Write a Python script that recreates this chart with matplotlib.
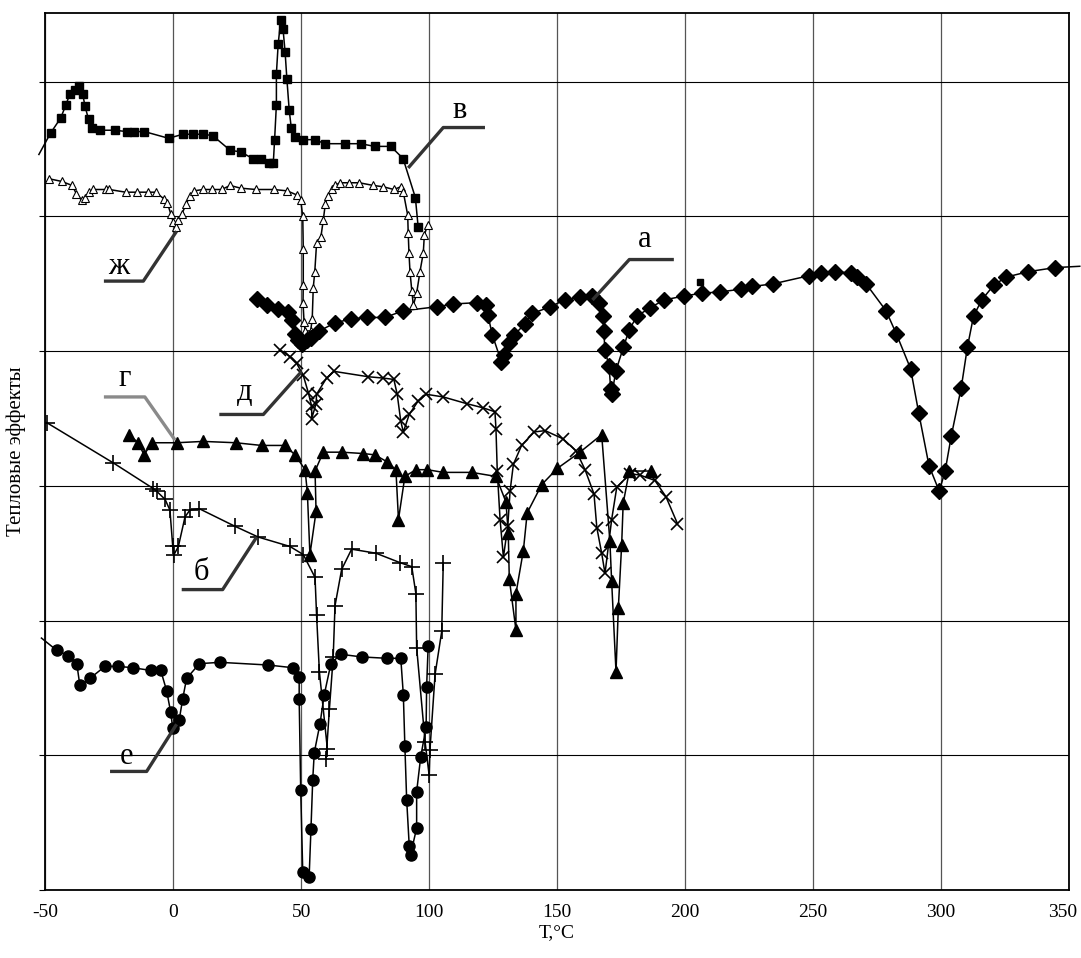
import matplotlib
matplotlib.use("Agg")
import matplotlib.pyplot as plt
from matplotlib.transforms import ScaledTranslation

plt.rcParams['font.family'] = ['Liberation Serif', 'DejaVu Serif']

# curve "в" (filled squares)
v_T = [-47.9, -44.0, -41.9, -40.4, -38.5, -37.0, -35.4, -34.5, -33.1, -31.7,
       -28.5, -22.9, -18.2, -15.2, -11.3, -1.8, 3.7, 7.8, 11.7, 15.4,
       22.3, 26.3, 31.0, 34.2, 37.3, 39.1, 39.6, 40.3, 40.3, 41.0,
       42.0, 42.9, 43.7, 44.4, 45.3, 46.1, 47.7, 50.6, 55.4, 59.2,
       67.0, 73.2, 78.7, 85.0, 89.8, 94.6, 95.7]
v_Y = [5.62, 5.73, 5.83, 5.91, 5.94, 5.97, 5.91, 5.82, 5.72, 5.66,
       5.64, 5.64, 5.63, 5.63, 5.63, 5.58, 5.61, 5.61, 5.61, 5.60,
       5.49, 5.48, 5.43, 5.43, 5.40, 5.40, 5.57, 5.83, 6.06, 6.28,
       6.46, 6.39, 6.22, 6.02, 5.79, 5.66, 5.59, 5.57, 5.57, 5.54,
       5.54, 5.54, 5.52, 5.52, 5.43, 5.14, 4.92]
v_lead = (-52.5, 5.46)
stray_T, stray_Y = [206.0], [4.51]

# curve "ж" (open triangles)
zh_T = [-48.6, -43.6, -39.5, -37.9, -35.8, -34.4, -32.8, -31.3, -26.3, -25.0,
        -18.6, -14.1, -10.0, -6.9, -3.6, -2.3, -1.0, 0.0, 0.9, 2.0,
        3.4, 5.0, 6.5, 8.1, 11.7, 15.1, 18.9, 22.2, 26.3, 32.3,
        39.2, 44.5, 48.2, 49.8, 50.6, 50.8, 50.8, 50.7, 51.1, 51.5,
        53.7, 54.3, 54.7, 55.3, 56.0, 57.7, 58.6, 59.4, 60.3, 61.9,
        63.3, 65.1, 68.8, 72.7, 78.2, 82.1, 86.2, 88.9, 89.9, 91.6,
        91.8, 92.1, 92.5, 93.2, 93.8, 95.1, 96.4, 97.7, 98.1, 99.4]
zh_Y = [5.28, 5.26, 5.23, 5.17, 5.12, 5.14, 5.18, 5.20, 5.20, 5.20,
        5.18, 5.18, 5.18, 5.18, 5.13, 5.10, 5.02, 4.96, 4.92, 4.97,
        5.02, 5.09, 5.15, 5.19, 5.20, 5.20, 5.20, 5.23, 5.21, 5.20,
        5.20, 5.19, 5.16, 5.12, 5.00, 4.76, 4.49, 4.36, 4.22, 4.15,
        4.15, 4.24, 4.47, 4.59, 4.80, 4.85, 4.97, 5.09, 5.15, 5.20,
        5.23, 5.25, 5.25, 5.25, 5.23, 5.22, 5.20, 5.22, 5.18, 5.01,
        4.88, 4.73, 4.59, 4.45, 4.34, 4.43, 4.59, 4.73, 4.86, 4.94]

# curve "а" (filled diamonds)
a_T = [32.8, 36.7, 41.0, 44.9, 46.3, 47.6, 48.8, 50.2, 52.1, 53.7,
       57.1, 63.2, 69.6, 75.8, 82.7, 89.9, 103.2, 109.4, 118.6, 122.1,
       122.9, 124.7, 128.2, 129.2, 131.2, 133.2, 137.3, 140.3, 147.4, 152.9,
       158.9, 163.8, 166.5, 168.0, 168.3, 168.6, 170.3, 170.9, 171.4, 172.9,
       175.9, 178.2, 181.2, 186.1, 191.8, 199.7, 206.5, 213.8, 221.8, 226.3,
       234.5, 248.4, 253.2, 258.7, 265.0, 267.3, 270.7, 278.5, 282.5, 288.1,
       291.3, 295.3, 299.3, 301.6, 304.0, 307.9, 310.3, 312.7, 315.9, 320.6,
       325.5, 334.1, 344.5]
a_Y = [4.39, 4.34, 4.31, 4.29, 4.23, 4.13, 4.08, 4.05, 4.08, 4.10,
       4.15, 4.21, 4.24, 4.25, 4.25, 4.30, 4.33, 4.35, 4.36, 4.34,
       4.27, 4.12, 3.92, 3.97, 4.06, 4.12, 4.20, 4.28, 4.33, 4.38,
       4.40, 4.41, 4.36, 4.26, 4.15, 4.01, 3.89, 3.72, 3.68, 3.85,
       4.03, 4.16, 4.26, 4.32, 4.38, 4.41, 4.43, 4.44, 4.46, 4.48,
       4.50, 4.56, 4.58, 4.59, 4.58, 4.55, 4.50, 4.30, 4.13, 3.87,
       3.54, 3.15, 2.96, 3.11, 3.37, 3.73, 4.03, 4.26, 4.38, 4.49,
       4.55, 4.59, 4.62]
a_tail = (354.2, 4.63)

# curve "д" (crosses)
d_T = [41.7, 45.6, 48.2, 50.8, 52.8, 54.1, 54.1, 55.8, 56.0, 59.9,
       62.8, 76.2, 82.1, 86.2, 87.5, 88.9, 89.9, 92.2, 95.7, 98.8,
       105.5, 114.7, 120.9, 125.7, 126.1, 126.6, 127.7, 129.0, 130.7, 131.6,
       132.9, 136.1, 141.0, 145.3, 152.2, 157.4, 160.9, 164.4, 165.5, 167.4,
       168.7, 171.3, 173.3, 178.5, 182.4, 188.2, 192.5, 197.0]
d_Y = [4.01, 3.96, 3.91, 3.82, 3.69, 3.59, 3.50, 3.61, 3.68, 3.80,
       3.85, 3.81, 3.80, 3.79, 3.68, 3.48, 3.40, 3.53, 3.63, 3.68,
       3.66, 3.61, 3.58, 3.55, 3.42, 3.11, 2.75, 2.47, 2.70, 2.96,
       3.16, 3.30, 3.40, 3.41, 3.35, 3.26, 3.12, 2.94, 2.69, 2.50,
       2.35, 2.75, 2.99, 3.09, 3.08, 3.04, 2.92, 2.72]

# curve "г" (filled triangles)
g_T = [-17.3, -13.7, -11.4, -8.4, 1.3, 11.7, 24.4, 34.5, 43.6, 47.6,
       51.5, 52.4, 53.4, 55.8, 55.4, 58.6, 65.8, 74.2, 78.8, 83.4,
       87.0, 88.0, 90.5, 94.8, 99.3, 105.5, 116.6, 126.1, 130.0, 130.9,
       131.3, 133.9, 133.9, 136.8, 138.3, 144.0, 150.1, 158.9, 167.4, 170.6,
       171.3, 173.0, 173.9, 175.2, 175.8, 178.2, 186.6]
g_Y = [3.38, 3.32, 3.23, 3.32, 3.32, 3.33, 3.32, 3.30, 3.30, 3.23,
       3.12, 2.95, 2.49, 2.81, 3.11, 3.25, 3.25, 3.24, 3.23, 3.18,
       3.12, 2.75, 3.07, 3.12, 3.12, 3.10, 3.10, 3.07, 2.88, 2.65,
       2.31, 1.93, 2.20, 2.52, 2.80, 3.01, 3.13, 3.25, 3.38, 2.59,
       2.29, 1.62, 2.09, 2.56, 2.87, 3.11, 3.11]

# curve "б" (plus signs)
b_T = [-49.5, -23.4, -7.8, -6.5, -3.2, -1.3, -0.2, 0.3, 2.0, 4.6,
       6.5, 10.2, 24.1, 33.2, 45.6, 50.8, 55.4, 56.0, 57.1, 60.2,
       59.7, 61.0, 62.5, 63.2, 65.8, 69.7, 79.2, 88.6, 93.2, 94.8,
       95.1, 98.4, 100.0, 100.3, 102.3, 104.9, 105.5]
b_Y = [3.47, 3.17, 2.98, 2.96, 2.90, 2.82, 2.55, 2.49, 2.55, 2.77,
       2.82, 2.83, 2.70, 2.62, 2.55, 2.49, 2.32, 2.04, 1.62, 1.05,
       0.97, 1.34, 1.73, 2.11, 2.38, 2.53, 2.50, 2.43, 2.40, 2.20,
       1.80, 1.10, 0.85, 1.04, 1.60, 1.92, 2.43]

# curve "е" (filled circles)
e_T = [-45.6, -41.0, -37.7, -36.5, -32.6, -26.7, -21.5, -15.9, -8.8, -4.9,
       -2.6, -1.0, -0.2, 2.3, 3.7, 5.2, 10.2, 18.2, 37.1, 46.7,
       49.2, 49.2, 49.8, 50.6, 53.1, 53.8, 54.5, 55.1, 57.3, 59.0,
       61.6, 65.4, 73.6, 83.4, 88.9, 89.9, 90.5, 91.2, 92.2, 92.7,
       95.1, 95.1, 96.7, 98.8, 99.0, 99.6]
e_Y = [1.78, 1.74, 1.68, 1.52, 1.57, 1.66, 1.66, 1.65, 1.63, 1.63,
       1.48, 1.32, 1.20, 1.26, 1.42, 1.57, 1.68, 1.69, 1.67, 1.65,
       1.58, 1.42, 0.74, 0.13, 0.10, 0.45, 0.82, 1.02, 1.23, 1.45,
       1.68, 1.75, 1.73, 1.72, 1.72, 1.45, 1.07, 0.67, 0.33, 0.26,
       0.46, 0.73, 0.99, 1.21, 1.51, 1.81]
e_lead = (-51.5, 1.87)

x_ticks = [-50, 0, 50, 100, 150, 200, 250, 300, 350]

# curve labels: text, text position, leader polyline, leader colour
labels = [
    ("в", (112.0, 5.79), [(121.8, 5.66), (105.5, 5.66), (91.8, 5.36)], "#333333"),
    ("ж", (-21.5, 4.63), [(-27.1, 4.52), (-11.7, 4.52), (1.3, 4.89)], "#333333"),
    ("а", (184.3, 4.83), [(195.6, 4.68), (178.2, 4.68), (163.8, 4.38)], "#333333"),
    ("г", (-18.9, 3.80), [(-27.1, 3.66), (-11.1, 3.66), (0.7, 3.34)], "#8a8a8a"),
    ("д", (28.1, 3.69), [(18.0, 3.53), (35.2, 3.53), (50.2, 3.85)], "#333333"),
    ("б", (11.1, 2.36), [(3.3, 2.23), (19.3, 2.23), (32.6, 2.62)], "#333333"),
    ("е", (-18.2, 0.99), [(-24.7, 0.88), (-10.4, 0.88), (1.3, 1.23)], "#333333"),
]

fig = plt.figure(figsize=(10.81, 9.58), dpi=100)
ax = fig.add_axes([0.0419, 0.0710, 0.947, 0.9154])

lw = 1.1
# lines
ax.plot([v_lead[0]] + v_T, [v_lead[1]] + v_Y, color="black", lw=lw, clip_on=False)
ax.plot(zh_T, zh_Y, color="black", lw=lw)
ax.plot(a_T + [a_tail[0]], a_Y + [a_tail[1]], color="black", lw=lw, clip_on=False)
ax.plot(d_T, d_Y, color="black", lw=lw)
ax.plot(g_T, g_Y, color="black", lw=lw)
ax.plot(b_T, b_Y, color="black", lw=lw)
ax.plot([e_lead[0]] + e_T, [e_lead[1]] + e_Y, color="black", lw=lw, clip_on=False)

# markers
ax.plot(v_T, v_Y, ls="none", marker="s", ms=5.5, color="black")
ax.plot(stray_T, stray_Y, ls="none", marker="s", ms=5, color="black")
ax.plot(zh_T, zh_Y, ls="none", marker="^", ms=6, mfc="white", mec="black", mew=0.8)
ax.plot(a_T, a_Y, ls="none", marker="D", ms=7.8, color="black")
ax.plot(d_T, d_Y, ls="none", marker="x", ms=9, mew=1.2, color="black")
ax.plot(g_T, g_Y, ls="none", marker="^", ms=9, color="black")
ax.plot(b_T, b_Y, ls="none", marker="+", ms=12, mew=1.2, color="black")
ax.plot(e_T, e_Y, ls="none", marker="o", ms=8, color="black", clip_on=False)

for txt, pos, leader, col in labels:
    xs = [p[0] for p in leader]
    ys = [p[1] for p in leader]
    ax.plot(xs, ys, color=col, lw=2.4, solid_capstyle="butt")
    ax.text(pos[0], pos[1], txt, fontsize=22, ha="center", va="center")

ax.set_xlim(-50, 350)
ax.set_ylim(0, 6.51)
ax.set_xticks(x_ticks)
ax.set_xticklabels([str(t) for t in x_ticks], fontsize=14)
ax.set_yticks(range(0, 7))
ax.set_yticklabels([])
ax.tick_params(axis="x", length=0, pad=10)
ax.tick_params(axis="y", length=4, direction="out")
ax.grid(True, color="black", lw=0.8)
ax.xaxis.grid(True, color="#555555", lw=0.9)
ax.set_axisbelow(True)
for s in ax.spines.values():
    s.set_linewidth(1.3)

# pull the last tick label inside the figure, as in the original
last = ax.get_xticklabels()[-1]
last.set_transform(last.get_transform() + ScaledTranslation(-6 / 100, 0, fig.dpi_scale_trans))

ax.set_xlabel("T,°C", fontsize=14, labelpad=2)
ax.set_ylabel("Тепловые эффекты", fontsize=15)
ax.yaxis.set_label_coords(-0.019, 0.5)

fig.savefig("out.png", dpi=100)
